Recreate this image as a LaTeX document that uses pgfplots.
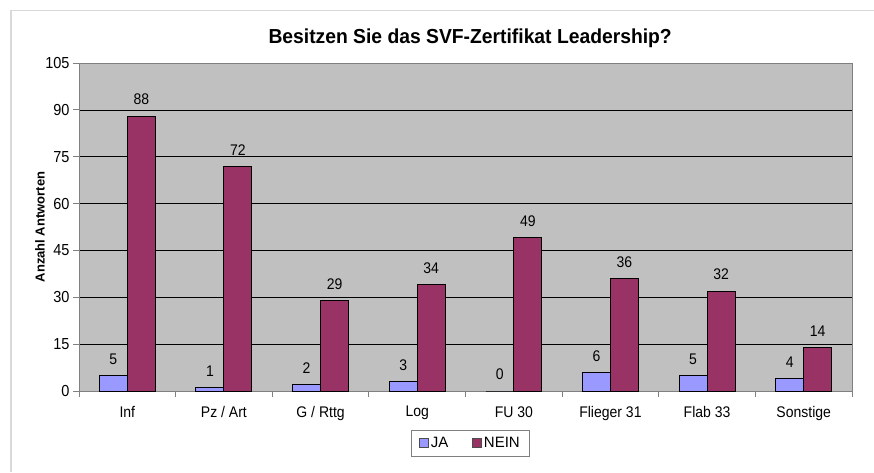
\documentclass[border=0pt]{standalone}
\usepackage{pgfplots}
\pgfplotsset{compat=1.18}
\usepackage{fontspec}
\setmainfont{Liberation Sans}
\definecolor{ja}{HTML}{9999FF}
\definecolor{nein}{HTML}{993366}
\definecolor{plotbg}{HTML}{C0C0C0}
\definecolor{axgray}{HTML}{808080}
\begin{document}
\begin{tikzpicture}[x=1pt,y=1pt]
\path[use as bounding box] (0,0) rectangle (874,472);
\draw[color=black!15, line width=1.5pt] (11,0) -- (11,461.5) -- (874,461.5);
\begin{axis}[
  at={(79pt,81pt)}, anchor=south west,
  scale only axis, width=773pt, height=328pt,
  xmin=-0.5, xmax=7.5, ymin=0, ymax=105,
  ytick={0,15,...,105},
  xtick={0,...,7},
  xticklabels={Inf, Pz / Art, G / Rttg, Log, FU 30, Flieger 31, Flab 33, Sonstige},
  major x tick style={draw=none},
  minor xtick={-0.5,0.5,1.5,2.5,3.5,4.5,5.5,6.5,7.5},
  tick align=outside, tick pos=left,
  major tick length=6pt, minor tick length=6pt,
  ymajorgrids, grid style={black, line width=0.7pt},
  axis background/.style={fill=plotbg},
  axis line style={draw=axgray, line width=1pt},
  every tick/.style={draw=axgray, line width=0.8pt},
  minor x tick style={draw=axgray, line width=0.8pt},
  ticklabel style={font=\fontsize{14}{16}\selectfont, yscale=1.1},
  yticklabel style={font=\fontsize{14.5}{16}\selectfont},
  xticklabel style={yshift=-5pt},
  /pgf/number format/assume math mode=true,
  ybar=0pt, bar width=28pt,
  nodes near coords,
  nodes near coords style={font=\fontsize{14}{16}\selectfont, inner sep=0pt, anchor=south, yshift=10.5pt, yscale=1.1},
  title={Besitzen Sie das SVF-Zertifikat Leadership?},
  title style={font=\fontsize{19.3}{22}\selectfont\bfseries, at={(0.506,1)}, anchor=base, yshift=13pt, yscale=1.05},
  ylabel={Anzahl Antworten},
  ylabel style={font=\fontsize{13}{16}\selectfont\bfseries, at={(axis description cs:-0.0505,0.5)}, anchor=center},
  legend columns=2,
  legend style={at={(0.5065,-0.1585)}, anchor=center, draw=axgray, line width=0.8pt, font=\fontsize{15}{17}\selectfont, inner xsep=8pt, inner ysep=5pt, /tikz/every even column/.append style={column sep=22pt}},
  legend image code/.code={\draw[#1, line width=0.6pt, draw=black!70] (0pt,-4.5pt) rectangle (9pt,5pt);},
]
\addplot[fill=ja, draw=black, line width=0.9pt] coordinates {(0,5) (1,1) (2,2) (3,3) (4,0) (5,6) (6,5) (7,4)};
\addplot[fill=nein, draw=black, line width=0.9pt] coordinates {(0,88) (1,72) (2,29) (3,34) (4,49) (5,36) (6,32) (7,14)};
\legend{JA, NEIN}
\end{axis}
\end{tikzpicture}
\end{document}
